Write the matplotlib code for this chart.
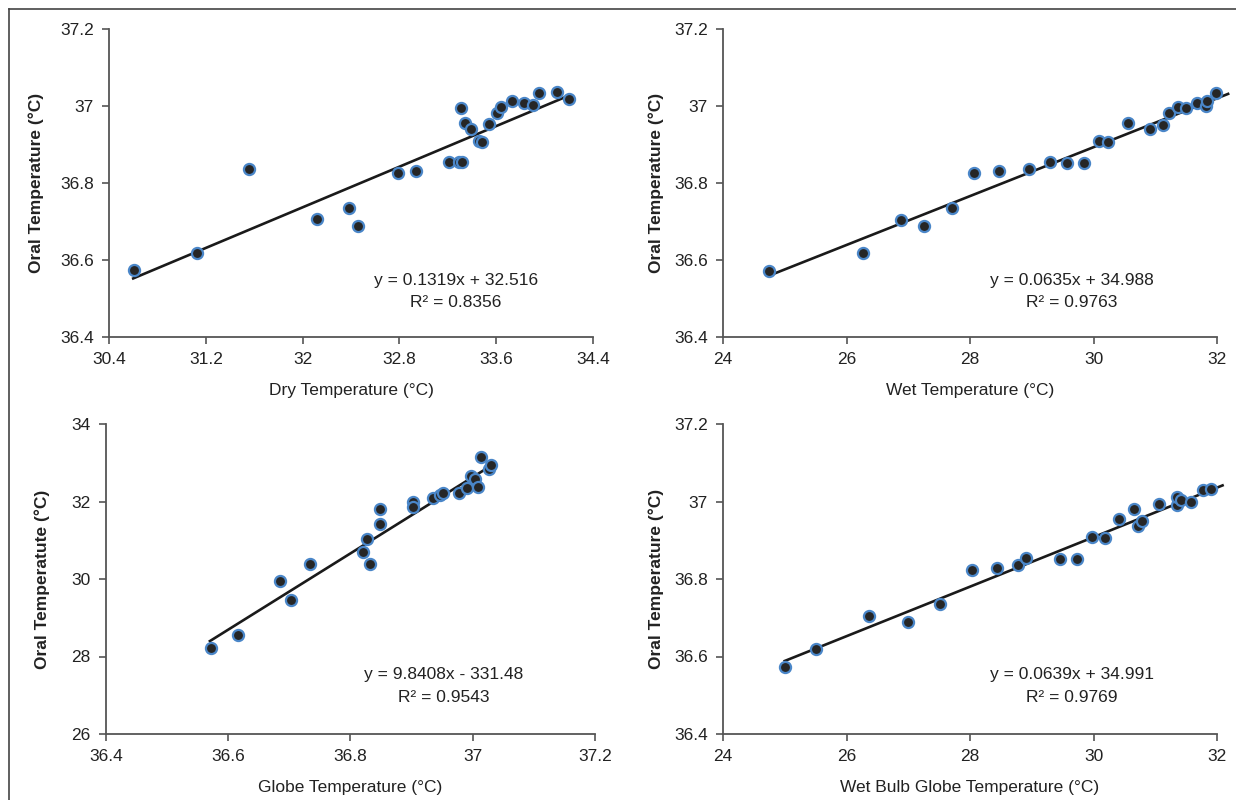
import matplotlib
matplotlib.use("Agg")
import matplotlib.pyplot as plt
from matplotlib.lines import Line2D
import numpy as np

plt.rcParams['font.family'] = ['Liberation Sans', 'DejaVu Sans']

# Dry temperature vs oral temperature
dry_x = [30.61, 31.13, 31.56, 32.12, 32.38, 32.46, 32.79, 32.94, 33.21, 33.29,
         33.32, 33.31, 33.34, 33.39, 33.46, 33.48, 33.54, 33.61, 33.64, 33.73,
         33.83, 33.90, 33.95, 34.10, 34.20]
dry_y = [36.574, 36.619, 36.836, 36.706, 36.736, 36.688, 36.825, 36.831, 36.855, 36.854,
         36.854, 36.996, 36.957, 36.940, 36.909, 36.906, 36.952, 36.981, 36.997, 37.013,
         37.008, 37.002, 37.033, 37.036, 37.018]

# Wet temperature vs oral temperature
wet_x = [24.74, 26.26, 26.89, 27.26, 27.71, 28.07, 28.47, 28.95, 29.30, 29.57,
         29.84, 30.09, 30.23, 30.56, 30.91, 31.13, 31.23, 31.37, 31.49, 31.67,
         31.82, 31.84, 31.98]
wet_y = [36.572, 36.618, 36.705, 36.688, 36.735, 36.825, 36.830, 36.836, 36.855, 36.853,
         36.853, 36.910, 36.906, 36.957, 36.939, 36.951, 36.981, 36.997, 36.994, 37.008,
         37.000, 37.014, 37.033]

# Globe temperature (x) vs oral temperature (y)
globe_x = [36.571, 36.616, 36.685, 36.702, 36.733, 36.821, 36.827, 36.832, 36.849, 36.849,
           36.902, 36.903, 36.935, 36.946, 36.951, 36.977, 36.991, 36.997, 37.003, 37.008,
           37.013, 37.027, 37.030]
globe_y = [28.22, 28.56, 29.94, 29.45, 30.40, 30.70, 31.02, 30.39, 31.41, 31.81,
           31.98, 31.87, 32.09, 32.16, 32.21, 32.21, 32.36, 32.66, 32.57, 32.38,
           33.16, 32.83, 32.93]

# Wet bulb globe temperature vs oral temperature
wbgt_x = [25.00, 25.50, 26.37, 26.99, 27.52, 28.04, 28.44, 28.78, 28.90, 29.45,
          29.74, 29.97, 30.19, 30.41, 30.65, 30.72, 30.78, 31.06, 31.35, 31.36,
          31.41, 31.58, 31.78, 31.91]
wbgt_y = [36.574, 36.619, 36.705, 36.688, 36.735, 36.824, 36.829, 36.835, 36.855, 36.852,
          36.852, 36.908, 36.905, 36.956, 36.980, 36.938, 36.950, 36.994, 36.991, 37.011,
          37.003, 36.999, 37.030, 37.032]

# Trendline coefficients (slope, intercept), x-ranges and R^2
fits = [
    (0.1319, 32.516, 30.60, 34.20, 0.8356),
    (0.0635, 34.988, 24.74, 32.18, 0.9763),
    (9.8408, -331.48, 36.57, 37.03, 0.9543),
    (0.0639, 34.991, 25.00, 32.09, 0.9769),
]
equations = ["y = 0.1319x + 32.516", "y = 0.0635x + 34.988",
             "y = 9.8408x - 331.48", "y = 0.0639x + 34.991"]

x_labels = ["Dry Temperature (°C)", "Wet Temperature (°C)",
            "Globe Temperature (°C)", "Wet Bulb Globe Temperature (°C)"]
y_labels = ["Oral Temperature (°C)", "Oral Temperature (°C)",
            "Oral Temperatute (°C)", "Oral Temperature (°C)"]
x_ticks = [[30.4, 31.2, 32, 32.8, 33.6, 34.4],
           [24, 26, 28, 30, 32],
           [36.4, 36.6, 36.8, 37, 37.2],
           [24, 26, 28, 30, 32]]
y_ticks = [[36.4, 36.6, 36.8, 37, 37.2],
           [36.4, 36.6, 36.8, 37, 37.2],
           [26, 28, 30, 32, 34],
           [36.4, 36.6, 36.8, 37, 37.2]]

W, H = 1236, 800
fig = plt.figure(figsize=(W / 100, H / 100), dpi=100)

# panel boxes in pixels: left, right, top, bottom
boxes = [(109, 593, 29, 337), (723, 1217, 29, 337),
         (106, 595, 424, 734), (723, 1217, 424, 734)]
text_pos = [(456, 280), (1072, 280), (444, 674), (1072, 675)]
ylabel_x = [36, 656, 42, 656]

data = [(dry_x, dry_y), (wet_x, wet_y), (globe_x, globe_y), (wbgt_x, wbgt_y)]

spine_col = "#555555"
for i in range(4):
    l, r, t, b = boxes[i]
    ax = fig.add_axes([l / W, 1 - b / H, (r - l) / W, (b - t) / H])
    xs, ys = data[i]
    m, c, x0, x1, r2 = fits[i]
    lx = np.array([x0, x1])
    ax.plot(lx, m * lx + c, color="#1a1a1a", lw=1.9, clip_on=False, zorder=2)
    ax.plot(xs, ys, "o", ms=8, mfc="#262626", mec="#4a86c8", mew=1.6,
            clip_on=False, zorder=3)
    ax.set_xlim(x_ticks[i][0], x_ticks[i][-1])
    ax.set_ylim(y_ticks[i][0], y_ticks[i][-1])
    ax.set_xticks(x_ticks[i])
    ax.set_yticks(y_ticks[i])
    ax.set_xticklabels([f"{v:g}" for v in x_ticks[i]])
    ax.set_yticklabels([f"{v:g}" for v in y_ticks[i]])
    for s in ("top", "right"):
        ax.spines[s].set_visible(False)
    for s in ("left", "bottom"):
        ax.spines[s].set_color(spine_col)
        ax.spines[s].set_linewidth(1.3)
    ax.tick_params(direction="out", length=5, width=1.2, color=spine_col,
                   labelsize=12.5, labelcolor="#222222", pad=6)
    ax.set_xlabel(x_labels[i], fontsize=12.5, color="#222222", labelpad=11)
    ax.set_ylabel(y_labels[i], fontsize=12.5, color="#222222", fontweight="bold")
    ax.yaxis.label.set_verticalalignment("center")
    ax.yaxis.set_label_coords((ylabel_x[i] - l) / (r - l), 0.5)
    tx, ty = text_pos[i]
    fig.text(tx / W, 1 - ty / H, equations[i], ha="center", va="center",
             fontsize=12.5, color="#222222")
    fig.text(tx / W, 1 - (ty + 23) / H, f"R² = {r2:.4f}", ha="center", va="center",
             fontsize=12.5, color="#222222")

# outer frame along the top and left edges
fig.add_artist(Line2D([9 / W, 9 / W], [0, 1 - 9 / H], color="#444444", lw=1.2))
fig.add_artist(Line2D([9 / W, 1], [1 - 9 / H, 1 - 9 / H], color="#444444", lw=1.2))

fig.savefig("out.png", dpi=100)
